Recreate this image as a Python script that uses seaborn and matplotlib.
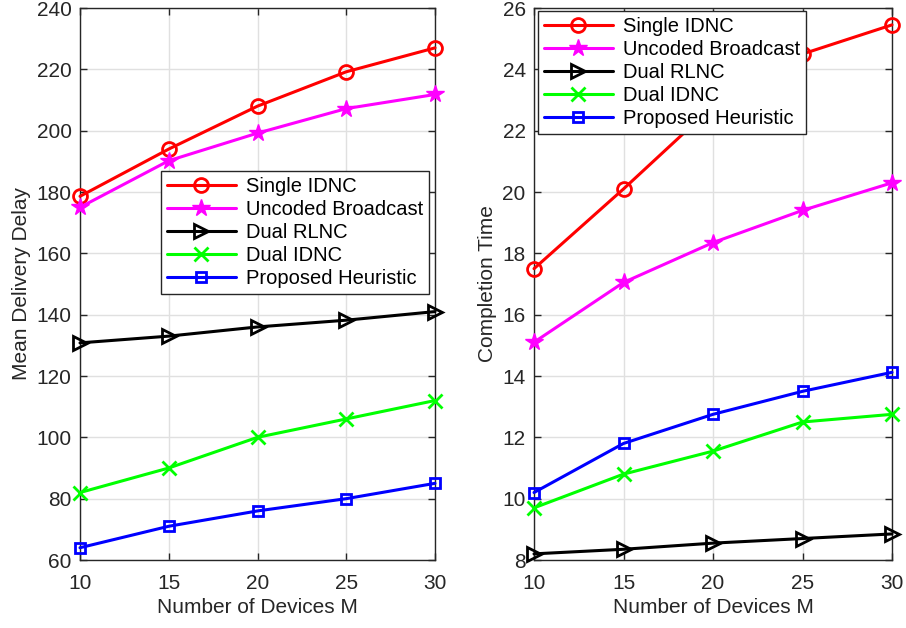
import matplotlib
matplotlib.use("Agg")
import matplotlib.pyplot as plt
import seaborn as sns
import pandas as pd

devices = [10, 15, 20, 25, 30]
series_names = ["Single IDNC", "Uncoded Broadcast", "Dual RLNC", "Dual IDNC", "Proposed Heuristic"]

delay_single_idnc = [178.6, 194, 208, 219.2, 227]
delay_uncoded = [175, 190.2, 199.2, 207.2, 211.8]
delay_dual_rlnc = [130.8, 133, 136, 138.2, 141]
delay_dual_idnc = [82, 90, 100, 106, 112]
delay_proposed = [64, 71, 76, 80, 85]

time_single_idnc = [17.5, 20.1, 22.8, 24.5, 25.45]
time_uncoded = [15.1, 17.05, 18.35, 19.4, 20.3]
time_dual_rlnc = [8.2, 8.35, 8.55, 8.7, 8.85]
time_dual_idnc = [9.7, 10.8, 11.55, 12.5, 12.75]
time_proposed = [10.2, 11.8, 12.75, 13.5, 14.12]

colors = ["#ff0000", "#ff00ff", "#000000", "#00ff00", "#0000ff"]
markers = ["o", "*", ">", "x", "s"]
msizes = [10, 13, 10, 10, 7]

sns.set_style("ticks")
plt.rcParams['font.family'] = ['Liberation Sans', 'DejaVu Sans']

def make_df(vals):
    rows = []
    for name, v in zip(series_names, vals):
        for x, y in zip(devices, v):
            rows.append({"M": x, "val": y, "series": name})
    return pd.DataFrame(rows)

df_delay = make_df([delay_single_idnc, delay_uncoded, delay_dual_rlnc, delay_dual_idnc, delay_proposed])
df_time = make_df([time_single_idnc, time_uncoded, time_dual_rlnc, time_dual_idnc, time_proposed])

fig = plt.figure(figsize=(9.06, 6.28), dpi=100)
ax1 = fig.add_axes([80/906, 68/628, 355/906, 552/628])
ax2 = fig.add_axes([534/906, 68/628, 358/906, 552/628])

def draw(ax, df, ylim, yticks, ylabel, legend_bbox):
    for name, c, m, ms in zip(series_names, colors, markers, msizes):
        sub = df[df["series"] == name]
        filled = m in ("*", "x")
        sns.lineplot(data=sub, x="M", y="val", ax=ax, color=c, marker=m,
                     markersize=ms, linewidth=2.2, label=name,
                     markerfacecolor=(c if filled else "none"),
                     markeredgecolor=c, markeredgewidth=2.0 if m != "*" else 1.0,
                     clip_on=False, zorder=3)
    ax.set_xlim(10, 30)
    ax.set_ylim(*ylim)
    ax.set_xticks(devices)
    ax.set_yticks(yticks)
    ax.grid(True, color="#e0e0e0", linewidth=1.0)
    ax.set_axisbelow(True)
    ax.tick_params(direction="in", length=5, labelsize=15, colors="#262626",
                   top=True, right=True, width=1.0)
    ax.tick_params(axis="x", pad=10)
    ax.tick_params(axis="y", pad=6)
    for s in ax.spines.values():
        s.set_color("#262626")
        s.set_linewidth(1.0)
    ax.set_xlabel("Number of Devices M", fontsize=15, color="#262626", labelpad=4)
    ax.set_ylabel(ylabel, fontsize=15, color="#262626", labelpad=4)
    leg = ax.legend(loc="upper left", bbox_to_anchor=legend_bbox, bbox_transform=fig.transFigure,
                    fontsize=14.5, frameon=True, fancybox=False, framealpha=1,
                    edgecolor="#262626", handlelength=3.4, handletextpad=0.5,
                    labelspacing=0.2, borderpad=0.3, borderaxespad=0)
    leg.get_frame().set_linewidth(1.0)
    for t in leg.get_texts():
        t.set_color("#000000")

draw(ax1, df_delay, (60, 240), list(range(60, 241, 20)), "Mean Delivery Delay",
     (161/906, 1 - 171/628))
draw(ax2, df_time, (8, 26), list(range(8, 27, 2)), "Completion Time",
     (538/906, 1 - 11/628))

fig.savefig("out.png", dpi=100)
